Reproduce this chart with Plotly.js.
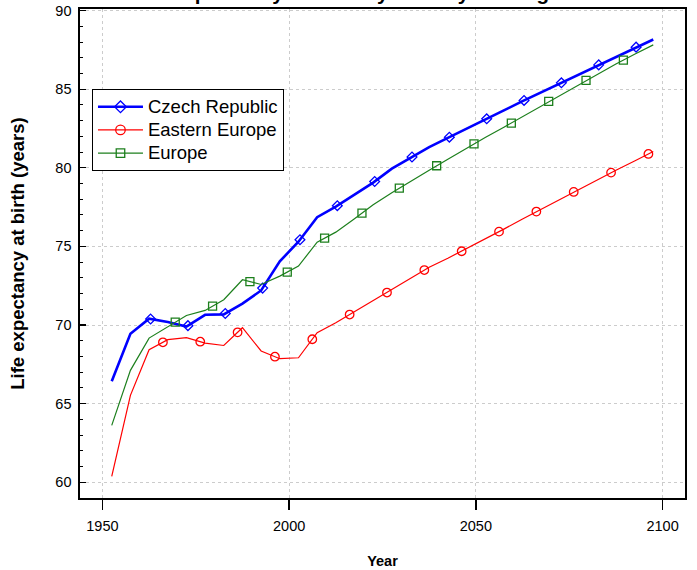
<!DOCTYPE html>
<html><head><meta charset="utf-8">
<script src="https://cdn.plot.ly/plotly-3.0.1.min.js"></script>
<style>html,body{margin:0;padding:0;background:#fff}</style>
</head><body><div id="chart" style="width:697px;height:570px"></div>
<script>
// ---- data ----
const years = [1952.5, 1957.5, 1962.5, 1967.5, 1972.5, 1977.5, 1982.5, 1987.5, 1992.5, 1997.5,
               2002.5, 2007.5, 2012.5, 2017.5, 2022.5, 2027.5, 2032.5, 2037.5, 2042.5, 2047.5,
               2052.5, 2057.5, 2062.5, 2067.5, 2072.5, 2077.5, 2082.5, 2087.5, 2092.5, 2097.5];
const czechRepublic = [66.42, 69.45, 70.4, 70.19, 69.9, 70.65, 70.68, 71.36, 72.2, 74.05,
                       75.3, 76.86, 77.53, 78.3, 79.06, 79.95, 80.63, 81.32, 81.9, 82.5,
                       83.07, 83.65, 84.24, 84.8, 85.36, 85.93, 86.5, 87.07, 87.63, 88.16];
const easternEurope = [60.38, 65.53, 68.43, 69.07, 69.2, 68.85, 68.7, 69.83, 68.35, 67.86,
                       67.92, 69.51, 70.15, 70.85, 71.55, 72.25, 72.98, 73.68, 74.25, 74.85,
                       75.48, 76.1, 76.75, 77.38, 78.0, 78.63, 79.25, 79.85, 80.43, 81.04];
const europe = [63.62, 67.12, 69.17, 69.91, 70.61, 70.93, 71.61, 72.88, 72.58, 73.11,
                73.75, 75.27, 75.91, 76.76, 77.65, 78.42, 79.15, 79.85, 80.55, 81.25,
                81.93, 82.58, 83.25, 83.95, 84.63, 85.3, 85.95, 86.6, 87.22, 87.82];
// years at which the symbols sit on each line
const czechMarkerYears = [1962.9, 1972.9, 1982.9, 1992.9, 2002.9, 2012.9, 2022.9, 2032.9, 2042.9, 2052.9, 2062.9, 2072.9, 2082.9, 2092.9];
const easternMarkerYears = [1966.2, 1976.2, 1986.2, 1996.2, 2006.2, 2016.2, 2026.2, 2036.2, 2046.2, 2056.2, 2066.2, 2076.2, 2086.2, 2096.2];
const europeMarkerYears = [1969.5, 1979.5, 1989.5, 1999.5, 2009.5, 2019.5, 2029.5, 2039.5, 2049.5, 2059.5, 2069.5, 2079.5, 2089.5];
const seriesNames = ['Czech Republic', 'Eastern Europe', 'Europe'];
const chartTitle = 'Life expectancy at birth by country and region';
const xTitle = 'Year';
const yTitle = 'Life expectancy at birth (years)';

// symbols lie on the drawn polyline
function onLine(xs, ys, x) {
  for (let i = 0; i < xs.length - 1; i++) {
    if (x >= xs[i] && x <= xs[i + 1]) {
      const t = (x - xs[i]) / (xs[i + 1] - xs[i]);
      return ys[i] + t * (ys[i + 1] - ys[i]);
    }
  }
  return null;
}

const FONT = 'Liberation Sans, Arial, Helvetica, sans-serif';
const styles = [
  {vals: czechRepublic, mYears: czechMarkerYears, color: '#0000FF', width: 2.6, symbol: 'diamond-open', size: 7.5, lsize: 9},
  {vals: easternEurope, mYears: easternMarkerYears, color: '#FF0000', width: 1.2, symbol: 'circle-open', size: 8.5, lsize: 9.5},
  {vals: europe, mYears: europeMarkerYears, color: '#1C7F1C', width: 1.2, symbol: 'square-open', size: 8, lsize: 8.5}
];

const traces = [];
styles.forEach((s, i) => {
  traces.push({x: years, y: s.vals, mode: 'lines', line: {color: s.color, width: s.width},
               showlegend: false, hoverinfo: 'skip', legendgroup: 'g' + i});
  traces.push({x: s.mYears, y: s.mYears.map(x => onLine(years, s.vals, x)), mode: 'markers',
               marker: {symbol: s.symbol, size: s.size, color: s.color, line: {width: 1.3, color: s.color}},
               showlegend: false, hoverinfo: 'skip', legendgroup: 'g' + i});
});
styles.forEach((s, i) => {
  traces.push({x: [null], y: [null], mode: 'lines+markers',
               name: '<span style="font-size:18.5px">' + seriesNames[i] + '</span>', legendgroup: 'g' + i,
               line: {color: s.color, width: s.width},
               marker: {symbol: s.symbol, size: s.lsize, color: s.color, line: {width: 1.3, color: s.color}}});
});

const layout = {
  width: 697, height: 570,
  margin: {l: 80, r: 12, t: 9, b: 72},
  paper_bgcolor: '#ffffff', plot_bgcolor: '#ffffff',
  font: {family: FONT, color: '#000', size: 14.5},
  title: {text: chartTitle, font: {family: FONT, size: 20.5, weight: 700, color: '#000'},
          x: 0.509, xref: 'container', xanchor: 'center', y: 1, yref: 'container', yanchor: 'bottom'},
  xaxis: {range: [1944, 2106], tickmode: 'linear', tick0: 1950, dtick: 50,
          ticks: 'outside', ticklen: 10, tickwidth: 1.5, tickcolor: '#000',
          showline: true, linecolor: '#000', linewidth: 1.6, mirror: true,
          showgrid: true, gridcolor: '#cccccc', griddash: 'dot', gridwidth: 1, zeroline: false,
          tickfont: {size: 14.5}, ticklabelstandoff: 4,
          title: {text: xTitle, font: {size: 14.5, weight: 700}, standoff: 23}},
  yaxis: {range: [59, 90.1], tickmode: 'linear', tick0: 60, dtick: 5,
          ticks: 'inside', ticklen: 6, tickwidth: 1.3, tickcolor: '#000',
          minor: {dtick: 1, tick0: 60, ticks: 'inside', ticklen: 3, tickwidth: 1, tickcolor: '#000', showgrid: false},
          showline: true, linecolor: '#000', linewidth: 1.6, mirror: true,
          showgrid: true, gridcolor: '#cccccc', griddash: 'dot', gridwidth: 1, zeroline: false,
          tickfont: {size: 14.5}, ticklabelstandoff: 4,
          title: {text: yTitle, font: {size: 18.5, weight: 700}, standoff: 26}},
  legend: {x: 0.0198, y: 0.836, xanchor: 'left', yanchor: 'top', xref: 'paper', yref: 'paper',
           bgcolor: '#ffffff', bordercolor: '#000', borderwidth: 1,
           font: {size: 15.5, family: FONT}, itemwidth: 45, tracegroupgap: 0, traceorder: 'normal'},
  showlegend: true
};

Plotly.newPlot('chart', traces, layout, {displayModeBar: false, staticPlot: true});
</script>
</body></html>
